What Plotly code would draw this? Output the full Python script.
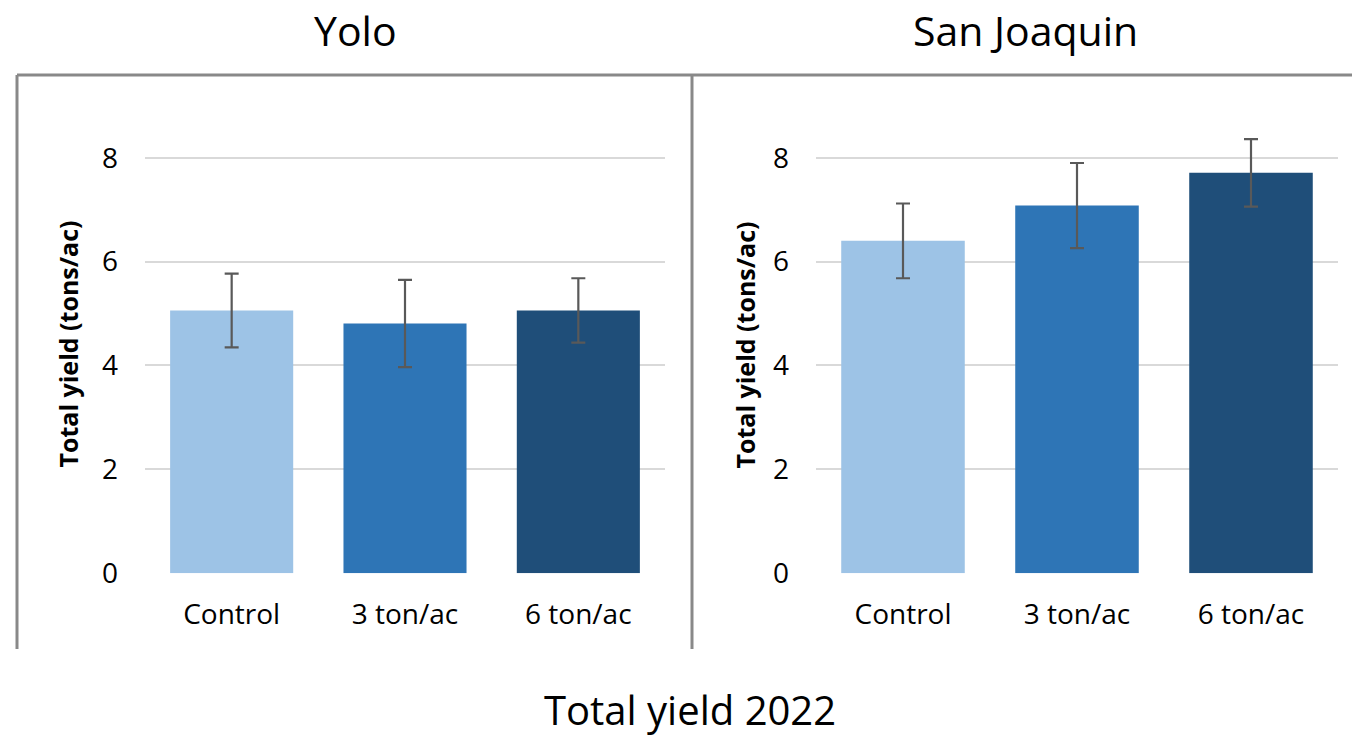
import plotly.graph_objects as go

categories = ["Control", "3 ton/ac", "6 ton/ac"]
yolo_values = [5.06, 4.81, 5.06]
yolo_errors = [0.71, 0.84, 0.62]
sj_values = [6.40, 7.08, 7.71]
sj_errors = [0.72, 0.82, 0.65]
panel_titles = ["Yolo", "San Joaquin"]
y_title = "Total yield (tons/ac)"
main_title = "Total yield 2022"
bar_colors = ["#9DC3E6", "#2E75B6", "#1F4E79"]

W = 1352
HC = 722  # effective rendered height of the figure in the capture
FONT = "Open Sans, sans-serif"

def px(x):
    return x / W

def py(y):
    return 1 - y / HC

fig = go.Figure()
for i, (vals, errs) in enumerate([(yolo_values, yolo_errors), (sj_values, sj_errors)]):
    fig.add_trace(go.Bar(
        x=categories, y=vals,
        marker=dict(color=bar_colors, line=dict(width=0)),
        error_y=dict(type="data", array=errs, visible=True, color="#595959", thickness=2.2, width=7),
        xaxis="x" if i == 0 else "x2", yaxis="y" if i == 0 else "y2",
        showlegend=False,
    ))

ytop = 9.2
ydom = [py(574), py(574 - ytop * 52)]
common_y = dict(range=[0, ytop], tickvals=[0, 2, 4, 6, 8], showgrid=True, gridcolor="#D9D9D9",
                gridwidth=2, zeroline=False, showline=False,
                tickfont=dict(family=FONT, size=28, color="#000"), ticklabelstandoff=26, domain=ydom)
common_x = dict(showline=False, showgrid=False, tickfont=dict(family=FONT, size=28, color="#000"),
                ticklabelstandoff=22)

fig.update_layout(
    autosize=True, margin=dict(l=0, r=0, t=0, b=0),
    paper_bgcolor="white", plot_bgcolor="white", bargap=0.29,
    xaxis=dict(domain=[px(145), px(665)], anchor="y", **common_x),
    xaxis2=dict(domain=[px(816), px(1338)], anchor="y2", **common_x),
    yaxis=dict(anchor="x", **common_y),
    yaxis2=dict(anchor="x2", **common_y),
)

# frame lines
line = dict(color="#898989", width=3)
fig.add_shape(type="line", xref="paper", yref="paper", x0=px(17), x1=1, y0=py(75), y1=py(75), line=line)
fig.add_shape(type="line", xref="paper", yref="paper", x0=px(17), x1=px(17), y0=py(75), y1=py(650), line=line)
fig.add_shape(type="line", xref="paper", yref="paper", x0=px(692), x1=px(692), y0=py(75), y1=py(650), line=line)

anns = [
    dict(text=panel_titles[0], x=px(355), y=py(30), size=41),
    dict(text=panel_titles[1], x=px(1025), y=py(30), size=41),
    dict(text=main_title, x=px(690), y=py(710), size=40),
]
for a in anns:
    size = a.pop("size")
    fig.add_annotation(xref="paper", yref="paper", xanchor="center", yanchor="middle", showarrow=False,
                       font=dict(family=FONT, size=size, color="#000"), **a)
for xc in [68, 745]:
    fig.add_annotation(xref="paper", yref="paper", x=px(xc), y=py(345), text="<b>" + y_title + "</b>",
                       textangle=-90, showarrow=False, xanchor="center", yanchor="middle",
                       font=dict(family=FONT, size=25, color="#000"))

post = (
    "document.body.style.margin='0px';"
    "document.body.style.overflow='hidden';"
    "document.documentElement.style.overflow='hidden';"
    "var gd=document.getElementById('{plot_id}');"
    "gd.style.position='absolute';gd.style.top='0px';gd.style.left='0px';"
    "gd.style.width='100vw';gd.style.height='100vh';"
    "Plotly.Plots.resize(gd);"
)
fig.write_html("out.html", post_script=post, config={"displayModeBar": False, "responsive": True},
               default_width="100vw", default_height="100vh")
